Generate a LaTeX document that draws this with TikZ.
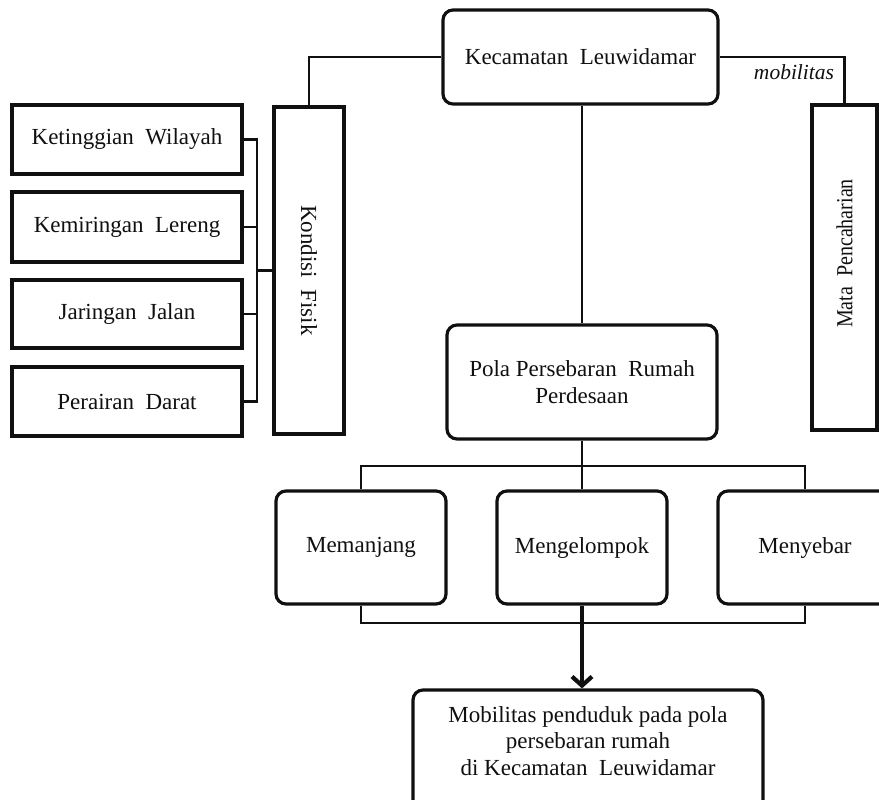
\documentclass[tikz,border=0pt]{standalone}
\usepackage{fontspec}
\setmainfont{Liberation Serif}
\usetikzlibrary{arrows.meta}
\definecolor{ink}{HTML}{101010}
\tikzset{
  every node/.style={font=\fontsize{23pt}{26.5pt}\selectfont, text=ink, inner sep=0pt},
  sqbox/.style={draw=ink, line width=3.2pt, fill=white, align=center},
  rbox/.style={sqbox, rounded corners=10pt},
  conn/.style={draw=ink, line width=2.9pt},
  bigarrow/.style={draw=ink, line width=4.2pt, -{Straight Barb[length=9pt,width=20pt,line width=4.2pt]}}
}
\begin{document}
\begin{tikzpicture}[x=1pt,y=-1pt]
\useasboundingbox (0,0) rectangle (879,800);
% nodes
\node[rbox, minimum width=275pt, minimum height=94pt] (kec) at (580.5,57) {Kecamatan~ Leuwidamar};
\node[sqbox, minimum width=70pt, minimum height=327pt] (kf) at (309,270.5) {\rotatebox{-90}{Kondisi~ Fisik}};
\node[sqbox, minimum width=65pt, minimum height=325pt] (mp) at (844.5,267.5) {\rotatebox{90}{\hspace*{28pt}\scalebox{0.87}[1]{Mata~ Pencaharian}}};
\node[font=\fontsize{21.5pt}{24pt}\selectfont\itshape] (mob0) at (794,72) {mobilitas};
\node[sqbox, minimum width=230pt, minimum height=69pt] (kw) at (127,139.5) {Ketinggian~ Wilayah};
\node[sqbox, minimum width=230pt, minimum height=70pt] (kl) at (127,227) {Kemiringan~ Lereng};
\node[sqbox, minimum width=230pt, minimum height=68pt] (jj) at (127,314) {Jaringan~ Jalan};
\node[sqbox, minimum width=230pt, minimum height=69pt] (pd) at (127,401.5) {Perairan~ Darat};
\node[rbox, minimum width=270pt, minimum height=114pt] (pola) at (582,382) {Pola Persebaran~ Rumah\\Perdesaan};
\node[rbox, minimum width=170pt, minimum height=113pt] (mem) at (361,547.5) {Memanjang};
\node[rbox, minimum width=170pt, minimum height=113pt] (mge) at (582,547.5) {Mengelompok};
\node[rbox, minimum width=174pt, minimum height=113pt] (mny) at (805,547.5) {Menyebar};
\node[rbox, minimum width=350pt, minimum height=130pt] (mob) at (588,755) {};
\node (mobtxt) at (588,741) [align=center] {Mobilitas penduduk pada pola\\persebaran rumah\\di Kecamatan~ Leuwidamar};
% coordinates
\coordinate (lbr) at (257,0);
\coordinate (top) at (582,466);
\coordinate (bot) at (582,623);
% connectors
\draw[conn] (kec.west) -| (kf.north);
\draw[conn] (kec.east) -| (mp.north);
\draw[conn] (kw.east) -| (lbr |- pd.east) -- (pd.east);
\draw[conn] (kl.east) -- (lbr |- kl.east);
\draw[conn] (jj.east) -- (lbr |- jj.east);
\draw[conn] (kf.west) -- (lbr |- kf.west);
\draw[conn] (pola.north) -- (pola.north |- kec.south);
\draw[conn] (pola.south) -- (mge.north);
\draw[conn] (mem.north) |- (top) -| (mny.north);
\draw[conn] (mem.south) |- (bot) -| (mny.south);
\draw[bigarrow] (mge.south) -- (mge.south |- mob.north);
\end{tikzpicture}
\end{document}
